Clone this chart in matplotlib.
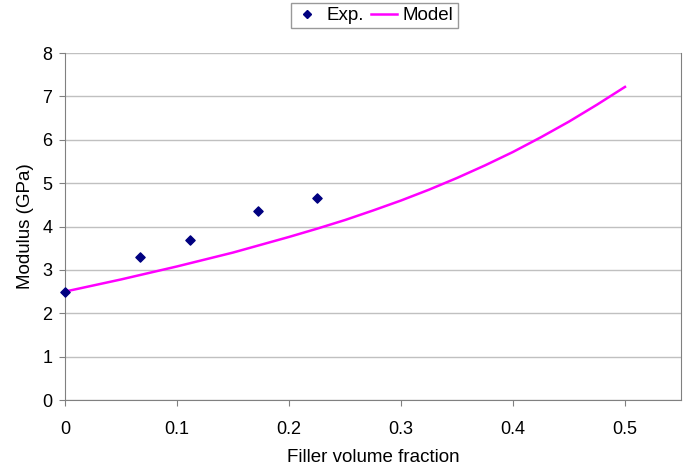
import matplotlib
matplotlib.use("Agg")
import matplotlib.pyplot as plt
from matplotlib.lines import Line2D

plt.rcParams['font.family'] = ['Liberation Sans', 'DejaVu Sans']

exp_x = [0.0, 0.067, 0.112, 0.172, 0.225]
exp_y = [2.5, 3.3, 3.68, 4.37, 4.65]

model_x = [0.0, 0.025, 0.05, 0.075, 0.10, 0.125, 0.15, 0.175, 0.20, 0.225, 0.25,
           0.275, 0.30, 0.325, 0.35, 0.375, 0.40, 0.425, 0.45, 0.475, 0.50]
model_y = [2.5, 2.64, 2.78, 2.93, 3.08, 3.24, 3.40, 3.58, 3.76, 3.95, 4.15,
           4.37, 4.60, 4.85, 5.12, 5.41, 5.72, 6.06, 6.42, 6.81, 7.22]

xticks = [0, 0.1, 0.2, 0.3, 0.4, 0.5]
xtick_labels = ['0', '0.1', '0.2', '0.3', '0.4', '0.5']
yticks = [0, 1, 2, 3, 4, 5, 6, 7, 8]

fig = plt.figure(figsize=(6.98, 4.74), dpi=100)
ax = fig.add_axes([0.0931, 0.1561, 0.9756 - 0.0931, 0.888 - 0.1561])

ax.plot(model_x, model_y, color='#ff00ff', lw=1.8, label='Model', zorder=3)
ax.scatter(exp_x, exp_y, marker='D', s=22, color='#000080', label='Exp.', zorder=4, clip_on=False)

ax.set_xlim(0, 0.55)
ax.set_ylim(0, 8)
ax.set_xticks(xticks)
ax.set_xticklabels(xtick_labels)
ax.set_yticks(yticks)
ax.yaxis.grid(True, color='#c0c0c0', lw=1)
ax.set_axisbelow(True)
for s in ax.spines.values():
    s.set_color('#808080')
ax.spines['top'].set_visible(False)
ax.tick_params(axis='both', colors='#808080', labelcolor='black', labelsize=13, length=4, direction='out')
ax.tick_params(axis='x', pad=11)
ax.tick_params(axis='y', pad=5)
ax.set_xlabel('Filler volume fraction', fontsize=13.5, labelpad=8)
ax.set_ylabel('Modulus (GPa)', fontsize=13.5, labelpad=6)

handles = [Line2D([], [], marker='D', color='#000080', ls='none', markersize=4.5),
           Line2D([], [], color='#ff00ff', lw=1.8)]
leg = fig.legend(handles, ['Exp.', 'Model'], loc='center', bbox_to_anchor=(374/698, 1 - 15.5/474),
                 ncol=2, frameon=True, fancybox=False, fontsize=13.5, handlelength=1.4,
                 handletextpad=0.3, columnspacing=0.4, borderpad=0.2, borderaxespad=0)
leg.get_frame().set_edgecolor('#808080')
leg.get_frame().set_linewidth(1)

fig.savefig('out.png', dpi=100)
